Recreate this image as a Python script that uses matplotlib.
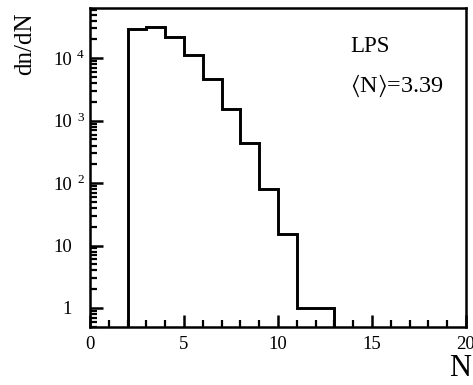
import matplotlib
matplotlib.use("Agg")
import matplotlib.pyplot as plt
import matplotlib.transforms as mtransforms
from matplotlib.ticker import FixedLocator, LogLocator, MultipleLocator, FixedFormatter, NullFormatter
import numpy as np

plt.rcParams['font.family'] = ['Liberation Serif', 'DejaVu Serif']
plt.rcParams['mathtext.fontset'] = 'custom'
plt.rcParams['mathtext.rm'] = 'Liberation Serif'
plt.rcParams['mathtext.it'] = 'Liberation Serif:italic'
plt.rcParams['mathtext.fallback'] = 'stix'

# multiplicity histogram: bin edges (N) and counts per bin
bin_edges = [2, 3, 4, 5, 6, 7, 8, 9, 10, 11, 12, 13]
counts = [29500, 31700, 21700, 11300, 4620, 1560, 440, 79, 15.4, 1.0, 1.0]

x_ticks = [0, 5, 10, 15, 20]
y_ticks = [1, 10, 100, 1000, 10000]
y_tick_base = ["1", "10", "10", "10", "10"]
y_tick_exp = ["", "", "2", "3", "4"]
label_title = "LPS"
label_mean = r"$\langle\mathregular{N}\rangle$=3.39"

fig = plt.figure(figsize=(4.73, 3.85), dpi=100)
ax = fig.add_axes([0.1903, 0.1514, 0.7949, 0.8291])

ax.stairs(counts, bin_edges, baseline=1e-3, color='black', linewidth=2.1)

ax.set_yscale('log')
ax.set_xlim(0, 20)
ax.set_ylim(0.5, 6.5e4)

ax.xaxis.set_major_locator(FixedLocator(x_ticks))
ax.xaxis.set_minor_locator(MultipleLocator(1))
ax.yaxis.set_major_locator(FixedLocator(y_ticks))
ax.yaxis.set_major_formatter(FixedFormatter(y_tick_base))
ax.yaxis.set_minor_locator(LogLocator(base=10, subs=np.arange(2, 10)))
ax.yaxis.set_minor_formatter(NullFormatter())

ax.tick_params(axis='both', which='both', direction='in', top=False, right=False,
               labelsize=13.5, colors='black')
ax.tick_params(axis='both', which='major', length=9, width=1.8)
ax.tick_params(axis='both', which='minor', length=5, width=1.6)
ax.tick_params(axis='x', which='major', pad=7)
ax.tick_params(axis='y', which='major', pad=13)
for lbl in ax.get_yticklabels():
    lbl.set_verticalalignment('center_baseline')

# decade exponents set as raised digits after the "10" labels
exp_tr = mtransforms.blended_transform_factory(ax.transAxes, ax.transData)
for val, ex in zip(y_ticks, y_tick_exp):
    if ex:
        ax.text(-0.0346, val, ex, transform=exp_tr, fontsize=9.5,
                ha='left', va='baseline', clip_on=False)

for s in ax.spines.values():
    s.set_linewidth(1.8)

ax.text(0.693, 0.861, label_title, transform=ax.transAxes, fontsize=16.5,
        ha='left', va='baseline')
ax.text(0.691, 0.735, label_mean, transform=ax.transAxes, fontsize=17.5,
        ha='left', va='baseline')

fig.text(25 / 473, 1 - 44 / 385, "dn/dN", rotation=90, fontsize=18,
         ha='center', va='center')
fig.text(460 / 473, 1 - 369 / 385, "N", fontsize=22, ha='center', va='center')

fig.savefig("out.png", dpi=100)
